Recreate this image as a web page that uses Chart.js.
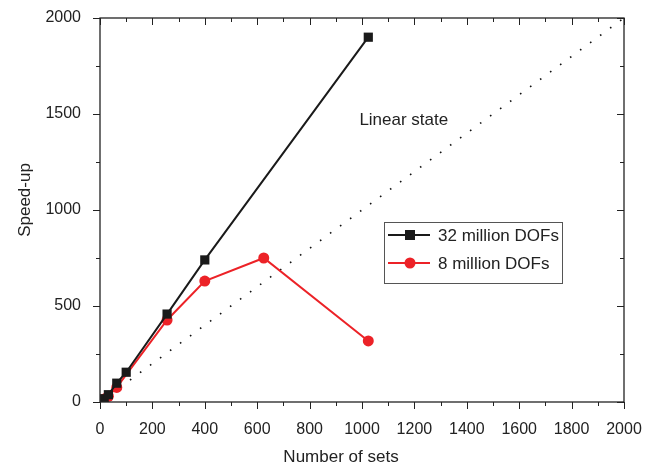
<!DOCTYPE html>
<html>
<head>
<meta charset="utf-8">
<script src="https://cdn.jsdelivr.net/npm/chart.js@4"></script>
<style>
  body { margin: 0; background: #fff; }
  #wrap { width: 654px; height: 468px; }
</style>
</head>
<body>
<div id="wrap"><canvas id="grafico"></canvas></div>
<script>
// Datos
var sets32 = [1, 4, 8, 16, 32, 64, 100, 256, 400, 1024];
var speed32 = [1, 4, 8, 17, 38, 98, 155, 458, 740, 1900];
var sets8 = [1, 4, 8, 16, 32, 64, 256, 400, 625, 1024];
var speed8 = [1, 4, 8, 16, 30, 76, 427, 630, 750, 318];
var linearSets = [0, 2000];
var linearSpeed = [0, 2000];
var seriesNames = ['32 million DOFs', '8 million DOFs'];
var xTitle = 'Number of sets';
var yTitle = 'Speed-up';
var noteText = 'Linear state';

function pares(xs, ys) {
  return xs.map(function (v, i) { return { x: v, y: ys[i] }; });
}

var FONT = '"Liberation Sans", Arial, Helvetica, sans-serif';
var INK = '#222';

// Marco, marcas de eje, leyenda y textos
var marco = {
  id: 'marco',
  afterDraw: function (chart) {
    var ctx = chart.ctx, a = chart.chartArea;
    var x = chart.scales.x, y = chart.scales.y;
    ctx.save();
    ctx.strokeStyle = INK;
    ctx.lineWidth = 1.3;
    ctx.strokeRect(a.left, a.top, a.right - a.left, a.bottom - a.top);
    ctx.lineWidth = 1;
    function linea(x1, y1, x2, y2) {
      ctx.beginPath(); ctx.moveTo(x1, y1); ctx.lineTo(x2, y2); ctx.stroke();
    }
    for (var v = 0; v <= 2000; v += 100) {
      var px = Math.round(x.getPixelForValue(v)) + 0.5;
      var len = v % 200 === 0 ? 7 : 4;
      linea(px, a.bottom, px, a.bottom + len);
      linea(px, a.top, px, a.top + len);
    }
    for (var w = 0; w <= 2000; w += 250) {
      var py = Math.round(y.getPixelForValue(w)) + 0.5;
      var l2 = w % 500 === 0 ? 7 : 4;
      linea(a.left, py, a.left - l2, py);
      linea(a.right, py, a.right - l2, py);
    }

    // textos
    ctx.fillStyle = INK;
    ctx.font = '17px ' + FONT;
    ctx.textBaseline = 'middle';
    ctx.textAlign = 'left';
    ctx.fillText(noteText, x.getPixelForValue(990), y.getPixelForValue(1467));
    ctx.textAlign = 'center';
    ctx.fillText(xTitle, 341, 457);
    ctx.save();
    ctx.translate(25, 200);
    ctx.rotate(-Math.PI / 2);
    ctx.fillText(yTitle, 0, 0);
    ctx.restore();

    // leyenda
    var lx = a.left + 284, ly = a.top + 204;
    ctx.strokeStyle = '#555';
    ctx.lineWidth = 1;
    ctx.strokeRect(lx + 0.5, ly + 0.5, 178, 61);
    ctx.textAlign = 'left';
    chart.data.datasets.slice(0, 2).forEach(function (ds, i) {
      var ry = ly + 13 + i * 28;
      ctx.strokeStyle = ds.borderColor;
      ctx.lineWidth = 2;
      linea(lx + 4, ry, lx + 46, ry);
      ctx.fillStyle = ds.pointBackgroundColor;
      if (ds.pointStyle === 'rect') {
        ctx.fillRect(lx + 21, ry - 5, 10, 10);
      } else {
        ctx.beginPath(); ctx.arc(lx + 26, ry, 5.5, 0, Math.PI * 2); ctx.fill();
      }
      ctx.fillStyle = INK;
      ctx.fillText(ds.label, lx + 54, ry + 1);
    });
    ctx.restore();
  }
};

var ctx = document.getElementById('grafico').getContext('2d');
var grafico = new Chart(ctx, {
  type: 'scatter',
  data: {
    datasets: [{
      label: seriesNames[0],
      data: pares(sets32, speed32),
      showLine: true,
      borderColor: '#1a1a1a',
      borderWidth: 2,
      pointStyle: 'rect',
      pointRadius: 6.5,
      pointBackgroundColor: '#1a1a1a',
      pointBorderWidth: 0
    }, {
      label: seriesNames[1],
      data: pares(sets8, speed8),
      showLine: true,
      borderColor: '#ec2227',
      borderWidth: 2,
      pointStyle: 'circle',
      pointRadius: 5.5,
      pointBackgroundColor: '#ec2227',
      pointBorderWidth: 0
    }, {
      label: noteText,
      data: pares(linearSets, linearSpeed),
      showLine: true,
      borderColor: '#111',
      borderWidth: 1.6,
      borderDash: [1.6, 10.8],
      pointRadius: 0
    }]
  },
  options: {
    responsive: true,
    maintainAspectRatio: false,
    animation: false,
    layout: { padding: { top: 18, right: 30, left: 0, bottom: 0 } },
    plugins: {
      legend: { display: false },
      tooltip: { enabled: false }
    },
    scales: {
      x: {
        type: 'linear',
        min: 0, max: 2000,
        grid: { display: false },
        border: { display: false },
        ticks: {
          stepSize: 200, padding: 10, color: INK, font: { family: FONT, size: 16 },
          callback: function (v) { return String(v); }
        },
        afterFit: function (s) { s.height = 66; s.paddingLeft = 0; s.paddingRight = 0; }
      },
      y: {
        type: 'linear',
        min: 0, max: 2000,
        grid: { display: false },
        border: { display: false },
        ticks: {
          stepSize: 500, padding: 11, color: INK, font: { family: FONT, size: 16 },
          callback: function (v) { return String(v); }
        },
        afterFit: function (s) { s.width = 100; s.paddingTop = 0; s.paddingBottom = 0; }
      }
    }
  },
  plugins: [marco]
});
</script>
</body>
</html>
